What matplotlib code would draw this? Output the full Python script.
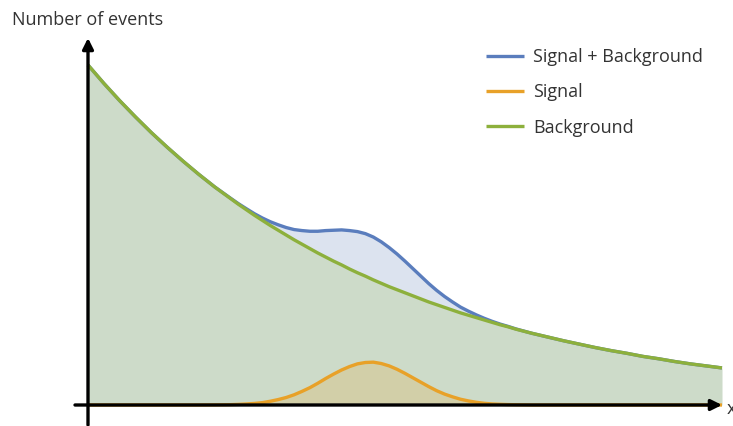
import matplotlib.pyplot as plt

x = [0.0, 0.25, 0.5, 0.75, 1.0, 1.25, 1.5, 1.75,
     2.0, 2.125, 2.25, 2.375, 2.5, 2.625, 2.75, 2.875, 3.0, 3.125, 3.25, 3.375,
     3.5, 3.625, 3.75, 3.875, 4.0, 4.125, 4.25, 4.375, 4.5, 4.625, 4.75, 4.875,
     5.0, 5.125, 5.25, 5.375, 5.5, 5.625, 5.75, 5.875, 6.0, 6.125, 6.25, 6.375,
     6.5, 6.625, 6.75, 6.875, 7.0,
     7.25, 7.5, 7.75, 8.0, 8.25, 8.5, 8.75, 9.0, 9.25, 9.5, 9.75, 10.0]
background = [10.00, 9.46, 8.95, 8.47, 8.01, 7.58, 7.17, 6.78,
              6.41, 6.24, 6.07, 5.90, 5.74, 5.58, 5.43, 5.28, 5.14, 5.00, 4.86,
              4.73, 4.60, 4.47, 4.35, 4.23, 4.12, 4.00, 3.89, 3.79, 3.68, 3.58,
              3.48, 3.39, 3.30, 3.21, 3.12, 3.03, 2.95, 2.87, 2.79, 2.71, 2.64,
              2.57, 2.50, 2.43, 2.36, 2.30, 2.23, 2.17, 2.11,
              2.00, 1.89, 1.79, 1.69, 1.60, 1.52, 1.43, 1.36, 1.28, 1.21, 1.15,
              1.09]
signal = [0.0, 0.0, 0.0, 0.0, 0.0, 0.0, 0.0, 0.0,
          0.003, 0.006, 0.01, 0.018, 0.03, 0.046, 0.07, 0.11, 0.16, 0.22, 0.30,
          0.40, 0.51, 0.64, 0.78, 0.91, 1.03, 1.13, 1.21, 1.25, 1.26, 1.22,
          1.15, 1.05, 0.93, 0.80, 0.67, 0.54, 0.42, 0.32, 0.24, 0.17, 0.12,
          0.08, 0.05, 0.03, 0.02, 0.012, 0.007, 0.004, 0.0,
          0.0, 0.0, 0.0, 0.0, 0.0, 0.0, 0.0, 0.0, 0.0, 0.0, 0.0, 0.0]
total = [b + s for b, s in zip(background, signal)]

blue = '#5a7dbd'
orange = '#e8a128'
green = '#8db03c'
txt = '#333333'

fig = plt.figure(figsize=(7.33, 4.26), dpi=100)
ax = fig.add_axes([0, 0, 1, 1])
ax.set_xlim(-88 / 63.4, 645 / 63.4)
ax.set_ylim(-21 / 34, 405 / 34)
ax.axis('off')

ax.fill_between(x, 0, background, color='#cddbc9', lw=0, zorder=1)
ax.fill_between(x, background, total, color='#dce3ef', lw=0, zorder=1)
ax.fill_between(x, 0, signal, color=orange, alpha=0.2, lw=0, zorder=2)

line_kw = dict(lw=2.4, solid_joinstyle='round', solid_capstyle='butt')
ax.plot(x, signal, color=orange, label='Signal', zorder=3, **line_kw)
ax.plot(x, total, color=blue, label='Signal + Background', zorder=4, **line_kw)
ax.plot(x, background, color=green, label='Background', zorder=5, **line_kw)

# axes drawn as arrows
arrow = dict(arrowstyle='-|>', color='black', lw=2.4, mutation_scale=16,
             shrinkA=0, shrinkB=0)
ax.annotate('', xy=(10.0, 0), xytext=(-13 / 63.4, 0), arrowprops=arrow, zorder=6)
ax.annotate('', xy=(0, 367 / 34), xytext=(0, -20 / 34), arrowprops=arrow, zorder=6)

fig.text(12 / 733, 1 - 20 / 426, 'Number of events', fontsize=13,
         family='Open Sans', color=txt, va='center', ha='left')
fig.text(727 / 733, 1 - 409 / 426, 'x', fontsize=13, family='Open Sans',
         color=txt, va='center', ha='left')

handles, labels = ax.get_legend_handles_labels()
order = [1, 0, 2]
leg = ax.legend([handles[i] for i in order], [labels[i] for i in order],
                loc='upper left', bbox_to_anchor=(470 / 733, 1 - 32 / 426),
                bbox_transform=fig.transFigure, frameon=False,
                prop={'family': 'Open Sans', 'size': 13},
                handlelength=2.1, handletextpad=0.5, labelspacing=0.95)
for t in leg.get_texts():
    t.set_color(txt)

fig.savefig('out.png', dpi=100)
